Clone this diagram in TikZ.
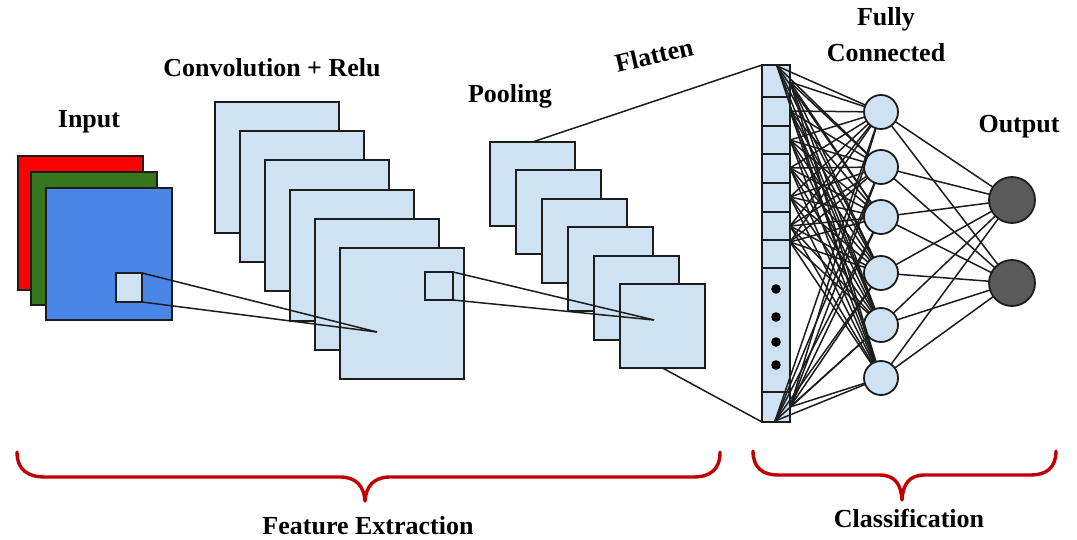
\documentclass[tikz,border=0pt]{standalone}
\usepackage{fontspec}
\setmainfont{Liberation Serif}
\definecolor{lblue}{HTML}{CFE2F3}
\definecolor{inblue}{HTML}{4A86E8}
\definecolor{ingreen}{HTML}{38761D}
\definecolor{inred}{HTML}{FF0000}
\definecolor{ogray}{HTML}{5A5A5A}
\definecolor{bred}{HTML}{C00000}
\definecolor{edge}{HTML}{1C1C1C}
\begin{document}
\begin{tikzpicture}[x=1pt,y=-1pt,
  fmap/.style={rectangle, draw=edge, line width=2pt, fill=lblue, inner sep=0pt, outer sep=0pt},
  lab/.style={font=\fontsize{26}{32}\selectfont\bfseries, anchor=base, inner sep=0pt},
  wire/.style={draw=edge, line width=1.5pt},
  neuron/.style={circle, draw=edge, line width=1.8pt, fill=lblue, minimum size=34pt, inner sep=0pt, outer sep=0pt},
  outn/.style={circle, draw=edge, line width=1.8pt, fill=ogray, minimum size=46pt, inner sep=0pt, outer sep=0pt},
  brace/.style={draw=bred, line width=3.4pt, line cap=round, line join=round}]
\useasboundingbox (0,0) rectangle (1077,540);

% ---------- input ----------
\node[fmap, fill=inred, minimum width=125pt, minimum height=134pt] (inr) at (80.5,223) {};
\node[fmap, fill=ingreen, minimum width=126pt, minimum height=133pt] (ing) at (94,238.5) {};
\node[fmap, fill=inblue, minimum width=126pt, minimum height=132pt] (inb) at (109,254) {};
\node[fmap, minimum width=26pt, minimum height=29pt] (kin) at (129,287.5) {};

% ---------- convolution ----------
\foreach \i in {0,...,5}
  \node[fmap, minimum width=124pt, minimum height=131pt] (c\i) at ({277+25*\i},{167.5+29.2*\i}) {};
\node[fmap, minimum width=28pt, minimum height=28pt] (kc) at (439,286) {};
\coordinate (cp) at (377,332);

% ---------- pooling ----------
\foreach \i in {0,...,5}
  \node[fmap, minimum width=85pt, minimum height=84pt] (p\i) at ({532.5+26*\i},{184+28.4*\i}) {};
\coordinate (pp) at (654,320);

% receptive field lines
\draw[wire] (kin.north east) -- (cp);
\draw[wire] (kin.south east) -- (cp);
\draw[wire] (kc.north east) -- (pp);
\draw[wire] (kc.south east) -- (pp);

% ---------- flatten column ----------
\node[fmap, minimum width=28pt, minimum height=357pt] (flat) at (776,243.5) {};
\foreach \y in {97,126,154,183,212,240,268,392}
  \draw[draw=edge, line width=1.8pt] (762,\y) -- (790,\y);
\foreach \y in {289,317,342,365}
  \fill[black] (776,\y) circle (4.8pt);
\draw[wire] (p0.north) -- (flat.north west);
\draw[wire] (p5.south) -- (flat.south west);

% ---------- fully connected ----------
\foreach \n/\y in {1/112,2/167,3/217,4/273,5/325,6/378}
  \node[neuron] (f\n) at (881,\y) {};
\node[outn] (o1) at (1012,200) {};
\node[outn] (o2) at (1012,283) {};

\coordinate (s0) at (777,66);
\coordinate (s1) at (790,82);
\coordinate (s2) at (790,111);
\coordinate (s3) at (790,140);
\coordinate (s4) at (790,168);
\coordinate (s5) at (790,197);
\coordinate (s6) at (790,226);
\coordinate (s7) at (790,242);
\coordinate (s8) at (775,421);
\coordinate (s9) at (790,407);
\foreach \s in {0,...,9}
  \foreach \n in {1,...,6}
    \draw[wire] (s\s) -- (f\n);
\foreach \n in {1,...,6}
  \foreach \o in {1,2}
    \draw[wire] (f\n) -- (o\o);

% ---------- labels ----------
\node[lab] (tin) at (89,128) {Input};
\node[lab] (tconv) at (272,77) {Convolution + Relu};
\node[lab] (tpool) at (510,103) {Pooling};
\node[lab, rotate=13] (tflat) at (656,64) {Flatten};
\node[lab] (tfc1) at (886,26) {Fully};
\node[lab] (tfc2) at (886,62) {Connected};
\node[lab] (tout) at (1019,133) {Output};
\node[lab] (tfe) at (368,534) {Feature Extraction};
\node[lab] (tcl) at (909,527) {Classification};

% ---------- braces ----------
\draw[brace] (17,452) .. controls (17,470) and (28,477) .. (45,477) -- (340,477)
  .. controls (356,477) and (364,486) .. (365,501)
  .. controls (366,486) and (374,477) .. (390,477) -- (693,477)
  .. controls (710,477) and (720,470) .. (720,452);
\draw[brace] (753,451) .. controls (753,468) and (763,475) .. (778,475) -- (879,475)
  .. controls (895,475) and (901,484) .. (902,500)
  .. controls (903,484) and (909,475) .. (925,475) -- (1031,475)
  .. controls (1046,475) and (1056,468) .. (1056,451);
\end{tikzpicture}
\end{document}
